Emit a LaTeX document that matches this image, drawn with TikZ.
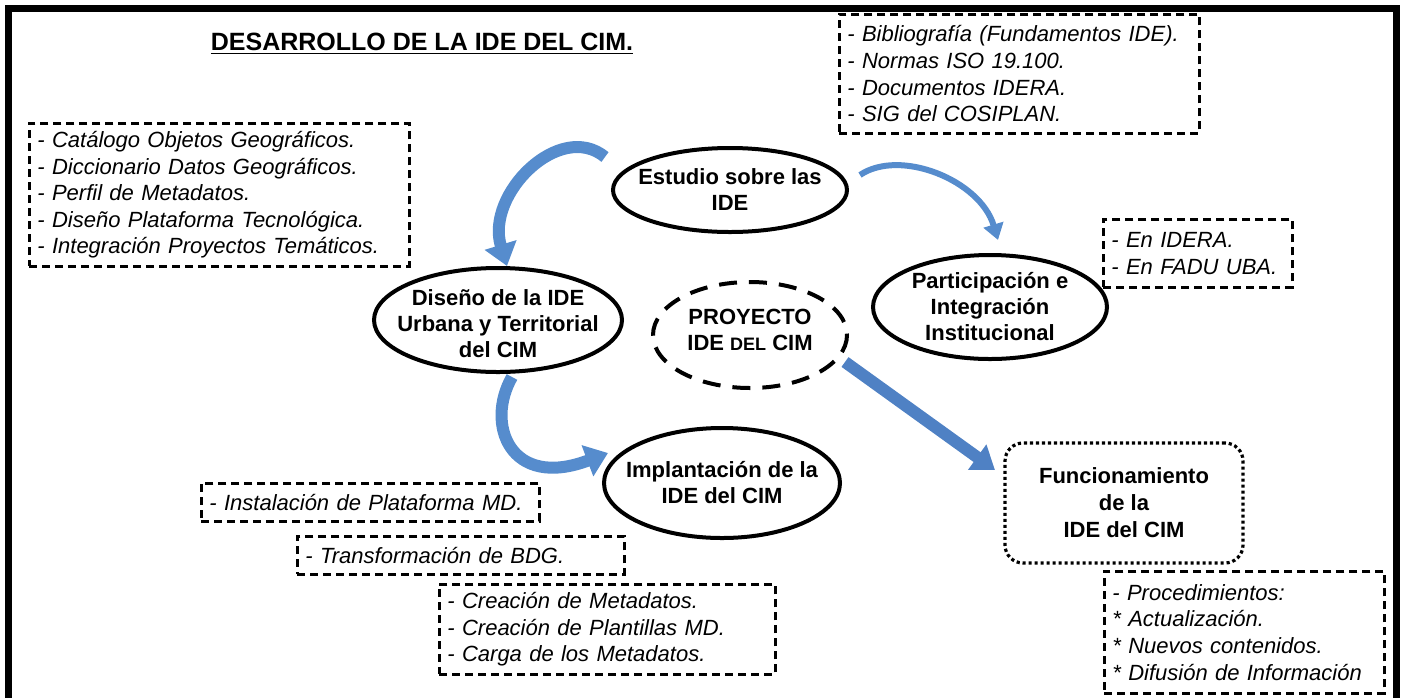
\documentclass[tikz,border=0pt]{standalone}
\usepackage{fontspec}
\setmainfont{Liberation Sans}
\usetikzlibrary{arrows.meta}
\definecolor{flecha}{RGB}{86,140,205}
\definecolor{flechaosc}{RGB}{79,129,196}
\tikzset{
  borde/.style={line width=2pt},
  etapa/.style={align=center, inner sep=0pt, font=\bfseries\fontsize{11}{13}\selectfont},
  lista/.style={draw, line width=1.4pt, dash pattern=on 4pt off 2.5pt, anchor=north west,
    align=left, inner xsep=4pt, inner ysep=0pt, font=\itshape\fontsize{11}{13.3}\selectfont},
  curva/.style={draw=flecha, line width=6pt, -{Triangle[width=16pt,length=11pt]}},
}
\begin{document}
\begin{tikzpicture}[x=0.5pt, y=-0.5pt]
  \useasboundingbox (0,0) rectangle (1402,697);
  \draw[line width=3.5pt] (8.5,720) -- (8.5,8.5) -- (1396,8.5) -- (1396,720);
  \node[font=\bfseries\fontsize{12.5}{15}\selectfont] (titulo) at (422,44) {\underline{DESARROLLO DE LA IDE DEL CIM.}};

  \draw[borde] (730,190) ellipse [x radius=117, y radius=42] node[etapa] (estudio) {Estudio sobre las\\IDE};
  \draw[borde] (990,307) ellipse [x radius=117, y radius=52] node[etapa] (particip) {Participación e\\Integración\\Institucional};
  \draw[borde] (498,320) ellipse [x radius=124, y radius=52] node[etapa, yshift=-2pt] (diseno) {Diseño de la IDE\\Urbana y Territorial\\del CIM};
  \draw[borde, dash pattern=on 9pt off 6pt] (750,335) ellipse [x radius=97, y radius=53] node[etapa, yshift=2.5pt] (proyecto) {PROYECTO\\IDE {\fontsize{9}{13}\selectfont DEL} CIM};
  \draw[borde] (722,483) ellipse [x radius=118, y radius=55] node[etapa] (implant) {Implantación de la\\IDE del CIM};
  \node[etapa, draw, line width=1.6pt, dash pattern=on 1.6pt off 1.4pt, rounded corners=9pt,
    minimum width=119pt, minimum height=60pt, font=\bfseries\fontsize{11}{13.5}\selectfont] (funcion) at (1124,503) {Funcionamiento\\de la\\IDE del CIM};

  \node[lista, text width=182pt, minimum height=71.5pt] (objetos) at (28,122) {- Catálogo Objetos Geográficos.\\- Diccionario Datos Geográficos.\\- Perfil de Metadatos.\\- Diseño Plataforma Tecnológica.\\- Integración Proyectos Temáticos.};
  \node[lista, text width=172pt, minimum height=59.5pt] (biblio) at (838,13) {- Bibliografía (Fundamentos IDE).\\- Normas ISO 19.100.\\- Documentos IDERA.\\- SIG del COSIPLAN.};
  \node[lista, text width=86.5pt, minimum height=34pt] (idera) at (1102,218) {- En IDERA.\\- En FADU UBA.};
  \node[lista, text width=161pt, minimum height=19pt] (instal) at (200,482) {- Instalación de Plataforma MD.};
  \node[lista, text width=155.5pt, minimum height=19pt] (transf) at (296,535) {- Transformación de BDG.};
  \node[lista, text width=160pt, minimum height=45pt] (metad) at (438,583) {- Creación de Metadatos.\\- Creación de Plantillas MD.\\- Carga de los Metadatos.};
  \node[lista, text width=132pt, minimum height=61pt] (proced) at (1103,570) {- Procedimientos:\\{}* Actualización.\\{}* Nuevos contenidos.\\{}* Difusión de Información};

  \draw[curva] ([shift={(-125,-33)}]estudio.center) .. controls +(-45,-37) and +(-22,-72) .. ([shift={(9,-58)}]diseno.center);
  \draw[curva, line width=3pt, -{Triangle[width=10pt,length=8pt]}] ([shift={(130,-15)}]estudio.center) .. controls +(40,-27) and +(-18,-60) .. ([shift={(8,-67)}]particip.center);
  \draw[curva] ([shift={(14,53)}]diseno.center) .. controls +(-27,47) and +(-98,37) .. ([shift={(-114,-30)}]implant.center);
  \draw[draw=flechaosc, line width=6pt, -{Triangle[width=15pt,length=11pt]}] ([shift={(95,32)}]proyecto.center) -- ([shift={(-129,-33)}]funcion.center);
\end{tikzpicture}
\end{document}
